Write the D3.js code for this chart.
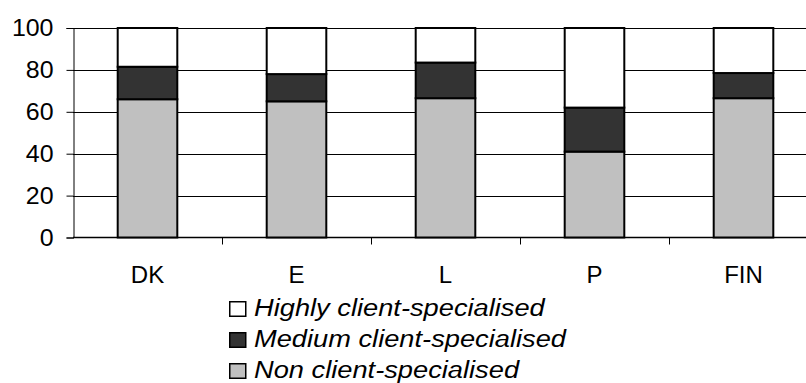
<!DOCTYPE html>
<html>
<head>
<meta charset="utf-8">
<script src="https://cdn.jsdelivr.net/npm/d3@7"></script>
<style>
  html, body { margin: 0; padding: 0; background: #fff; }
  svg { display: block; font-family: "Liberation Sans", Arial, sans-serif; }
</style>
</head>
<body>
<svg id="chart" width="806" height="383"></svg>
<script>
// Countries along the x axis
const categories = ["DK", "E", "L", "P", "FIN"];

// Share of firms (%) by degree of client specialisation
const nonSpecialised    = [66, 65, 66.5, 41, 66.5];
const mediumSpecialised = [15.5, 13, 17, 21, 12];
const highlySpecialised = [18.5, 22, 16.5, 38, 21.5];

const yTicks = [0, 20, 40, 60, 80, 100];

const seriesNames = ["Non client-specialised", "Medium client-specialised", "Highly client-specialised"];
const seriesFill = ["#c0c0c0", "#333333", "#ffffff"];

// horizontal stretch applied to tick and legend text
const TICK_WIDE = 1.04;
const LEGEND_WIDE = 1.16;

const rows = categories.map((c, i) => ({
  cat: c,
  [seriesNames[0]]: nonSpecialised[i],
  [seriesNames[1]]: mediumSpecialised[i],
  [seriesNames[2]]: highlySpecialised[i]
}));

const svg = d3.select("#chart");
const x = d3.scaleBand().domain(categories).range([73, 818]).paddingInner(0.6).paddingOuter(0.3);
const y = d3.scaleLinear().domain([0, 100]).range([237.5, 28]);

// horizontal gridlines
svg.append("g")
  .selectAll("line")
  .data(yTicks.filter(t => t > 0))
  .join("line")
  .attr("x1", 73).attr("x2", 806)
  .attr("y1", d => Math.round(y(d)) + 0.5).attr("y2", d => Math.round(y(d)) + 0.5)
  .attr("stroke", "#000").attr("stroke-width", 1);

// y axis
const yAxis = svg.append("g")
  .attr("transform", "translate(73.5,0)")
  .call(d3.axisLeft(y).tickValues(yTicks).tickSize(7).tickFormat(d3.format("d")));
yAxis.select(".domain").attr("stroke", "#000");
yAxis.selectAll(".tick line").attr("stroke", "#000");
yAxis.selectAll(".tick text")
  .attr("x", 0)
  .attr("transform", `translate(-20,0) scale(${TICK_WIDE},1)`)
  .attr("fill", "#000").attr("font-size", 24).attr("font-family", "Liberation Sans, Arial, sans-serif");

// x axis: ticks sit on category boundaries
const xAxisG = svg.append("g").attr("transform", `translate(0,${y(0)})`);
xAxisG.append("line").attr("x1", 73).attr("x2", 806).attr("stroke", "#000").attr("stroke-width", 1.5);
const step = x.step();
const bounds = d3.range(1, categories.length).map(i => x.range()[0] + i * step);
xAxisG.selectAll("line.tick")
  .data(bounds)
  .join("line").attr("class", "tick")
  .attr("x1", d => Math.round(d) + 0.5).attr("x2", d => Math.round(d) + 0.5)
  .attr("y1", 0).attr("y2", 7).attr("stroke", "#000");
xAxisG.selectAll("text")
  .data(categories)
  .join("text")
  .attr("x", d => x(d) + x.bandwidth() / 2)
  .attr("y", 45)
  .attr("text-anchor", "middle")
  .attr("font-size", 24)
  .attr("fill", "#000")
  .text(d => d);

// stacked bars
const stacked = d3.stack().keys(seriesNames)(rows);
svg.append("g")
  .selectAll("g")
  .data(stacked)
  .join("g")
  .attr("fill", (d, i) => seriesFill[i])
  .selectAll("rect")
  .data(d => d)
  .join("rect")
  .attr("x", d => x(d.data.cat))
  .attr("y", d => y(d[1]))
  .attr("width", x.bandwidth())
  .attr("height", d => y(d[0]) - y(d[1]))
  .attr("stroke", "#000")
  .attr("stroke-width", 2);

// legend, highest category first
const legendOrder = [2, 1, 0];
const legend = svg.append("g").attr("transform", "translate(229,301)");
const item = legend.selectAll("g")
  .data(legendOrder)
  .join("g")
  .attr("transform", (d, i) => `translate(0,${i * 31})`);
item.append("rect")
  .attr("x", 0.75).attr("y", 0.75).attr("width", 16).attr("height", 14.5)
  .attr("fill", d => seriesFill[d]).attr("stroke", "#000").attr("stroke-width", 1.5);
item.append("text")
  .attr("transform", `translate(25,15) scale(${LEGEND_WIDE},1)`)
  .attr("font-size", 23.5)
  .attr("font-style", "italic")
  .attr("fill", "#000")
  .text(d => seriesNames[d]);
</script>
</body>
</html>
